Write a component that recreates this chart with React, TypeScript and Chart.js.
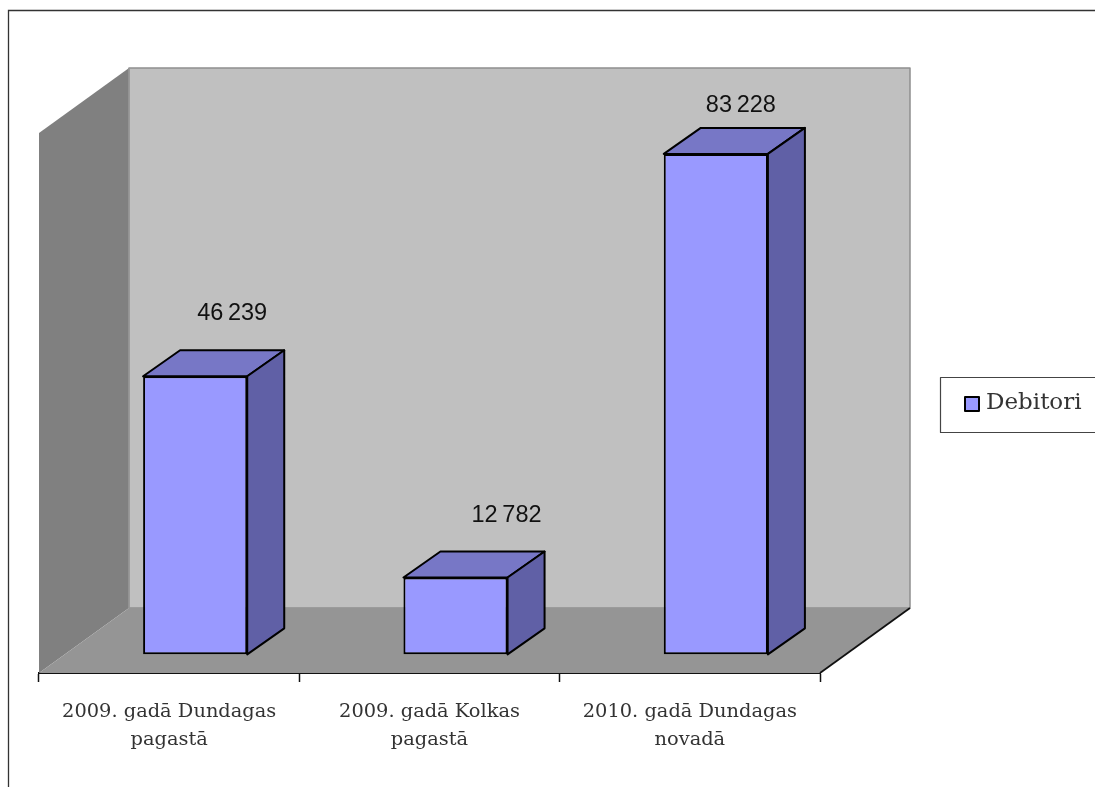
import React, { useEffect, useRef } from "react";
import { Chart, registerables } from "chart.js";

Chart.register(...registerables);

const categories: string[][] = [
  ["2009. gadā Dundagas", "pagastā"],
  ["2009. gadā Kolkas", "pagastā"],
  ["2010. gadā Dundagas", "novadā"],
];
const debitori: number[] = [46239, 12782, 83228];
const seriesName = "Debitori";

const formatValue = (v: number) => String(v).replace(/\B(?=(\d{3})+$)/g, "\u2009");
const SERIF = "'DejaVu Serif', serif";
const SANS = "'Liberation Sans', Arial, sans-serif";

const WALL = { dx: 90, dy: -65 };
const BAR = { dx: 37, dy: -26 };
const BAR_SHIFT = 26;
const LABEL_OFFSETS = [
  { x: 37, y: -63 },
  { x: 51, y: -62 },
  { x: 25, y: -48.5 },
];

const poly = (ctx: CanvasRenderingContext2D, pts: number[][], fill: string, stroke?: string, lw = 1) => {
  ctx.beginPath();
  pts.forEach((p, i) => (i ? ctx.lineTo(p[0], p[1]) : ctx.moveTo(p[0], p[1])));
  ctx.closePath();
  ctx.fillStyle = fill;
  ctx.fill();
  if (stroke) {
    ctx.strokeStyle = stroke;
    ctx.lineWidth = lw;
    ctx.lineJoin = "round";
    ctx.stroke();
  }
};

const scene = {
  id: "scene3d",
  beforeDatasetsDraw(chart: any) {
    const { ctx, chartArea: a } = chart;
    const { left: l, right: r, top: t, bottom: b } = a;
    const { dx, dy } = WALL;
    ctx.save();
    // outer frame
    ctx.strokeStyle = "#333333";
    ctx.lineWidth = 1.3;
    ctx.beginPath();
    ctx.moveTo(8.5, chart.height);
    ctx.lineTo(8.5, 10.5);
    ctx.lineTo(chart.width, 10.5);
    ctx.stroke();
    // walls
    poly(ctx, [[l + dx, t + dy], [r + dx, t + dy], [r + dx, b + dy], [l + dx, b + dy]], "#c0c0c0", "#8e8e8e", 1.5);
    poly(ctx, [[l, t], [l + dx, t + dy], [l + dx, b + dy], [l, b]], "#808080");
    ctx.strokeStyle = "#9a9a9a";
    ctx.lineWidth = 1.5;
    ctx.beginPath();
    ctx.moveTo(l + dx, t + dy);
    ctx.lineTo(l + dx, b + dy);
    ctx.stroke();
    poly(ctx, [[l, b], [r, b], [r + dx, b + dy], [l + dx, b + dy]], "#959595");
    ctx.strokeStyle = "#111111";
    ctx.lineWidth = 1.8;
    ctx.beginPath();
    ctx.moveTo(r, b);
    ctx.lineTo(r + dx, b + dy);
    ctx.stroke();
    ctx.restore();
  },
  beforeDatasetDraw(chart: any) {
    chart.ctx.save();
    chart.ctx.translate(BAR_SHIFT, 0);
  },
  afterDatasetDraw(chart: any) {
    chart.ctx.restore();
  },
  afterDatasetsDraw(chart: any) {
    const { ctx } = chart;
    const meta = chart.getDatasetMeta(0);
    ctx.save();
    meta.data.forEach((bar: any, i: number) => {
      const w = bar.width / 2;
      const x0 = bar.x + BAR_SHIFT - w;
      const x1 = bar.x + BAR_SHIFT + w;
      const y0 = bar.y;
      const y1 = bar.base;
      const { dx, dy } = BAR;
      poly(ctx, [[x0, y0], [x1, y0], [x1 + dx, y0 + dy], [x0 + dx, y0 + dy]], "#7777c6", "#000000", 2);
      poly(ctx, [[x1, y0], [x1 + dx, y0 + dy], [x1 + dx, y1 + dy], [x1, y1]], "#6060a6", "#000000", 2);
      const off = LABEL_OFFSETS[i];
      ctx.fillStyle = "#111111";
      ctx.font = `23.5px ${SANS}`;
      ctx.textAlign = "center";
      ctx.textBaseline = "middle";
      ctx.fillText(formatValue(debitori[i]), bar.x + BAR_SHIFT + off.x, y0 + off.y);
    });
    // legend
    const bx = 940.5, by = 377.5, bh = 55;
    ctx.strokeStyle = "#444444";
    ctx.lineWidth = 1.2;
    ctx.beginPath();
    ctx.moveTo(chart.width, by);
    ctx.lineTo(bx, by);
    ctx.lineTo(bx, by + bh);
    ctx.lineTo(chart.width, by + bh);
    ctx.stroke();
    ctx.fillStyle = "#9999ff";
    ctx.strokeStyle = "#000000";
    ctx.lineWidth = 2;
    ctx.fillRect(965, 397, 14, 14);
    ctx.strokeRect(965, 397, 14, 14);
    ctx.fillStyle = "#333333";
    ctx.font = `23px ${SERIF}`;
    ctx.textAlign = "left";
    ctx.textBaseline = "middle";
    ctx.fillText(seriesName, 986, 403);
    ctx.restore();
  },
};

export default function App() {
  const ref = useRef<HTMLCanvasElement>(null);
  useEffect(() => {
    const chart = new Chart(ref.current as HTMLCanvasElement, {
      type: "bar",
      data: {
        labels: categories as any,
        datasets: [
          {
            label: seriesName,
            data: debitori,
            backgroundColor: "#9999ff",
            borderColor: "#000000",
            borderWidth: 2,
            borderSkipped: false,
            barPercentage: 0.4,
            categoryPercentage: 1,
          },
        ],
      },
      options: {
        responsive: false,
        animation: false,
        devicePixelRatio: 1,
        layout: { padding: { left: 39, right: 275, top: 133, bottom: 0 } },
        plugins: { legend: { display: false }, tooltip: { enabled: false }, title: { display: false } },
        scales: {
          y: { display: false, min: -3100, max: 86700 },
          x: {
            afterFit: (s: any) => {
              s.height = 114;
            },
            border: { color: "#111111", width: 2 },
            grid: { drawOnChartArea: false, drawTicks: true, tickLength: 9, tickWidth: 1.5, color: "#111111", offset: true },
            ticks: {
              color: "#333333",
              font: { family: SERIF, size: 19.4, lineHeight: 1.44 },
              maxRotation: 0,
              minRotation: 0,
              autoSkip: false,
              padding: 16,
            },
          },
        },
      },
      plugins: [scene],
    } as any);
    return () => chart.destroy();
  }, []);
  return (
    <div style={{ position: "fixed", left: 0, top: 0, width: 1095, height: 787, background: "#fff" }}>
      <canvas ref={ref} width={1095} height={787} style={{ display: "block" }} />
    </div>
  );
}
